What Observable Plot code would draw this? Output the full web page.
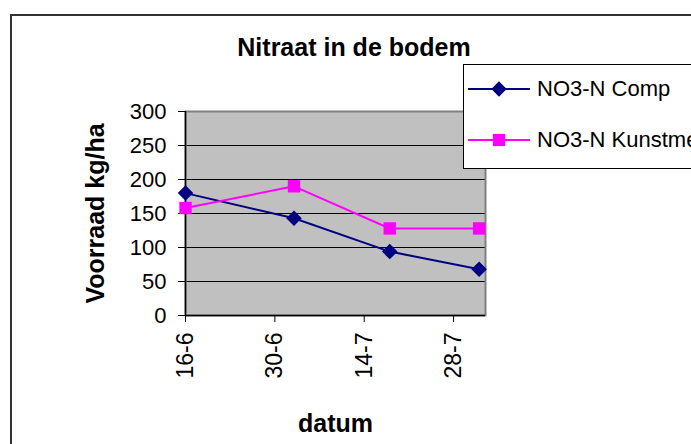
<!DOCTYPE html>
<html>
<head>
<meta charset="utf-8">
<script src="https://cdn.jsdelivr.net/npm/d3@7"></script>
<script src="https://cdn.jsdelivr.net/npm/@observablehq/plot@0.6"></script>
<style>
  html, body { margin: 0; padding: 0; background: #fff; overflow: hidden; }
  #wrap { position: relative; width: 691px; height: 444px; overflow: hidden; font-family: "Liberation Sans", Arial, sans-serif; }
  #border { position: absolute; left: 10px; top: 14px; width: 800px; height: 500px; border-left: 2px solid #333; border-top: 2px solid #333; }
  #chart { position: absolute; left: 0; top: 0; }
  #title { position: absolute; left: 0; top: 35px; width: 708px; text-align: center; font-weight: bold; font-size: 25px; line-height: 25px; color: #000; }
  #legend { position: absolute; left: 463px; top: 64px; width: 320px; height: 103px; border: 1px solid #000; background: #fff; }
  .lg-row { position: absolute; left: 0; height: 22px; white-space: nowrap; }
  .lg-sym { position: absolute; left: 4px; top: 0; }
  .lg-txt { position: absolute; left: 73px; top: 0; font-size: 22px; line-height: 22px; color: #000; }
</style>
</head>
<body>
<div id="wrap">
  <div id="border"></div>
  <div id="chart"></div>
  <div id="title"></div>
  <div id="legend"></div>
</div>
<script>
// ---- data ----
const titleText = "Nitraat in de bodem";
const yLabel = "Voorraad kg/ha";
const xLabel = "datum";
const dates = ["2003-06-16", "2003-07-03", "2003-07-18", "2003-08-01"];
const compValues = [180, 143, 94, 68];
const kunstValues = [158, 190, 128, 128];
const seriesNames = ["NO3-N Comp", "NO3-N Kunstmest"];
const seriesColors = ["#000080", "#FF00FF"];
const seriesSymbols = ["diamond2", "square"];
const xTicks = ["2003-06-16", "2003-06-30", "2003-07-14", "2003-07-28"];
const xDomain = ["2003-06-16", "2003-08-02"];
const yTicks = [0, 50, 100, 150, 200, 250, 300];

// ---- build table ----
const parse = d3.utcParse("%Y-%m-%d");
const seriesValues = [compValues, kunstValues];
const rows = [];
seriesNames.forEach((name, i) => {
  dates.forEach((d, j) => rows.push({series: name, date: parse(d), value: seriesValues[i][j]}));
});
const fmt = d3.utcFormat("%-d-%-m");

const marks = [
  Plot.frame({fill: "#C0C0C0"}),
  Plot.gridY(yTicks, {stroke: "#000", strokeOpacity: 1, strokeWidth: 1}),
  Plot.frame({stroke: "#808080", strokeWidth: 2}),
  Plot.axisY(yTicks, {tickSize: 7, tickPadding: 12, label: null, fontSize: 22, stroke: "#000"}),
  Plot.axisX(xTicks.map(parse), {tickSize: 7, tickPadding: 10, tickRotate: -90, tickFormat: fmt, label: null, fontSize: 23, stroke: "#000"}),
  Plot.ruleX([parse(xDomain[0])], {stroke: "#000", strokeWidth: 1.5}),
  Plot.ruleY([0], {stroke: "#000", strokeWidth: 1.5})
];
seriesNames.forEach((name, i) => {
  const data = rows.filter(r => r.series === name);
  marks.push(Plot.line(data, {x: "date", y: "value", stroke: seriesColors[i], strokeWidth: 2}));
  marks.push(Plot.dot(data, {x: "date", y: "value", symbol: seriesSymbols[i], r: 7, fill: seriesColors[i]}));
});
marks.push(Plot.text([yLabel], {frameAnchor: "left", dx: -90, rotate: -90, textAnchor: "middle", lineAnchor: "middle", fontWeight: "bold", fontSize: 25, fill: "#000"}));
marks.push(Plot.text([xLabel], {frameAnchor: "bottom", dy: 108, textAnchor: "middle", lineAnchor: "middle", fontWeight: "bold", fontSize: 25, fill: "#000"}));

const chart = Plot.plot({
  width: 691,
  height: 444,
  marginLeft: 185,
  marginRight: 206,
  marginTop: 111,
  marginBottom: 129,
  style: {fontFamily: "'Liberation Sans', Arial, sans-serif", fontSize: "22px", color: "#000", background: "transparent", overflow: "visible"},
  x: {type: "utc", domain: xDomain.map(parse)},
  y: {domain: [0, 300]},
  marks
});
document.getElementById("chart").appendChild(chart);
document.getElementById("title").textContent = titleText;

// ---- legend ----
const legend = document.getElementById("legend");
const rowTops = [12, 63];
seriesNames.forEach((name, i) => {
  const row = document.createElement("div");
  row.className = "lg-row";
  row.style.top = rowTops[i] + "px";
  row.style.width = "400px";
  const sym = d3.create("svg").attr("class", "lg-sym").attr("width", 64).attr("height", 22);
  sym.append("line").attr("x1", 0).attr("x2", 62).attr("y1", 12).attr("y2", 12)
    .attr("stroke", seriesColors[i]).attr("stroke-width", 2);
  const shape = seriesSymbols[i] === "square" ? d3.symbolSquare : d3.symbolDiamond2;
  sym.append("path").attr("transform", "translate(31,12)")
    .attr("d", d3.symbol(shape, 150)())
    .attr("fill", seriesColors[i]);
  row.appendChild(sym.node());
  const txt = document.createElement("div");
  txt.className = "lg-txt";
  txt.style.top = "1px";
  txt.textContent = name;
  row.appendChild(txt);
  legend.appendChild(row);
});
</script>
</body>
</html>
